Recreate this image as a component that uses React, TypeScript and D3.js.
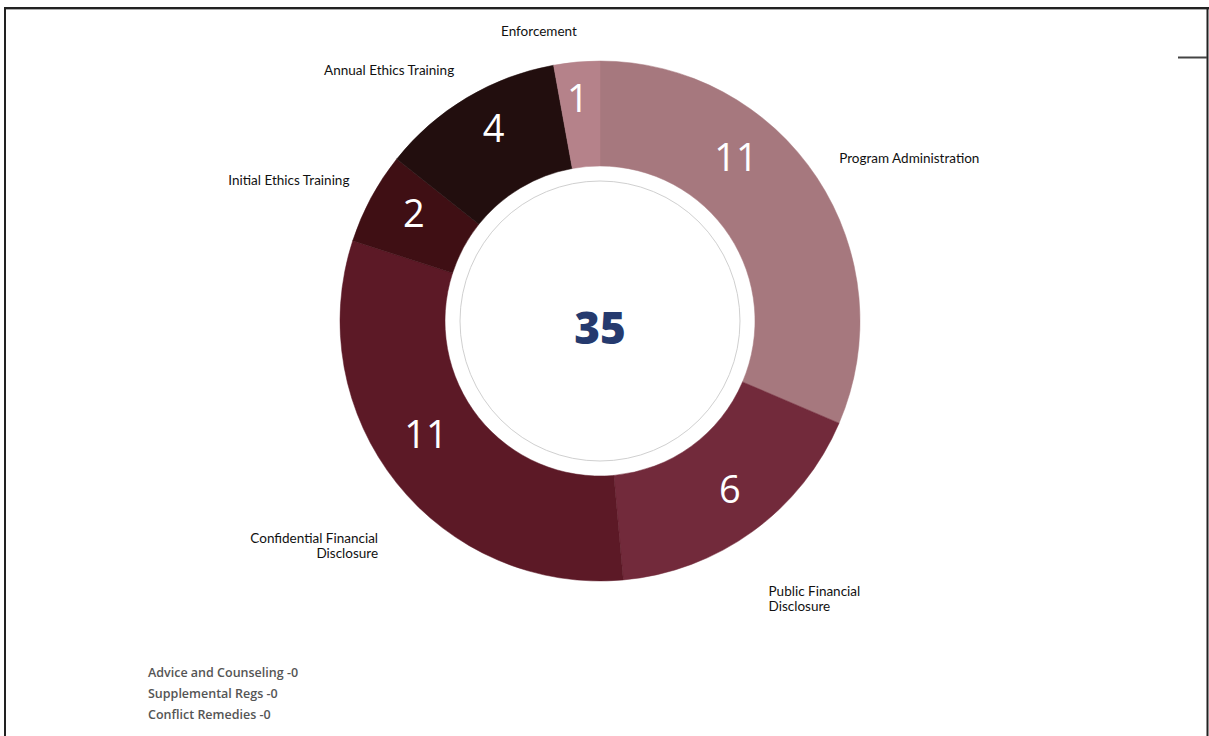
import * as d3 from "d3"
import { useEffect, useRef } from "react"

const categories = [
  "Program Administration",
  "Public Financial Disclosure",
  "Confidential Financial Disclosure",
  "Initial Ethics Training",
  "Annual Ethics Training",
  "Enforcement",
]
const values = [11, 6, 11, 2, 4, 1]
const zeroCategories = ["Advice and Counseling", "Supplemental Regs", "Conflict Remedies"]
const zeroValues = [0, 0, 0]

const colors = ["#a6787e", "#722a3b", "#5c1926", "#3f0f14", "#220e0e", "#b5828a"]
// label layout (degrees shift from slice middle, radius from centre, anchor)
const labelShift = [-0.7, 4.1, -5.9, 0.9, -9.3, -6.8]
const labelRadius = [289, 319, 311, 287, 327, 295]
const labelAnchor = ["start", "start", "end", "end", "middle", "middle"]
const valueShift = [-16.9, -1.6, 5.4, 1.7, 1.9, -0.5]
const valueRadius = [213, 213, 208, 215, 220, 224]

export default function App() {
  const svgRef = useRef<SVGSVGElement>(null)

  useEffect(() => {
    if (!svgRef.current) return
    const root = d3.select(svgRef.current)
    root.selectAll("*").remove()

    const W = 1209
    const H = 736
    const cx = 600
    const cy = 321
    const outer = 260
    const inner = 155

    // frame
    root.append("line").attr("x1", 4).attr("x2", 1209).attr("y1", 8).attr("y2", 8)
      .attr("stroke", "#222").attr("stroke-width", 2)
    root.append("line").attr("x1", 4).attr("x2", 1209).attr("y1", 9.5).attr("y2", 9.5)
      .attr("stroke", "#aaa").attr("stroke-width", 1)
    root.append("line").attr("x1", 5).attr("x2", 5).attr("y1", 7).attr("y2", H)
      .attr("stroke", "#222").attr("stroke-width", 2)
    root.append("line").attr("x1", 1207.5).attr("x2", 1207.5).attr("y1", 7).attr("y2", H)
      .attr("stroke", "#222").attr("stroke-width", 2)
    root.append("line").attr("x1", 1178).attr("x2", 1207).attr("y1", 57.5).attr("y2", 57.5)
      .attr("stroke", "#444").attr("stroke-width", 2)

    const g = root.append("g").attr("transform", `translate(${cx},${cy})`)

    const pie = d3.pie<number>().sort(null).value((d) => d)
    const arcs = pie(values)
    const arc = d3.arc<d3.PieArcDatum<number>>().innerRadius(inner).outerRadius(outer)

    g.selectAll("path.slice")
      .data(arcs)
      .join("path")
      .attr("class", "slice")
      .attr("fill", (d, i) => colors[i])
      .attr("stroke", (d, i) => colors[i])
      .attr("stroke-width", 0.5)
      .attr("d", arc)

    // inner circle
    g.append("circle").attr("r", 140).attr("fill", "#fff").attr("stroke", "#d0d0d0").attr("stroke-width", 1)

    const polar = (a: number, r: number) => [r * Math.sin(a), -r * Math.cos(a)]
    const rad = (deg: number) => (deg * Math.PI) / 180

    // value labels
    g.selectAll("text.val")
      .data(arcs)
      .join("text")
      .attr("class", "val")
      .attr("transform", (d, i) => {
        const a = (d.startAngle + d.endAngle) / 2 + rad(valueShift[i])
        return `translate(${polar(a, valueRadius[i])})`
      })
      .attr("text-anchor", "middle")
      .attr("dy", "0.36em")
      .attr("fill", "#fff")
      .style("font-family", "'Open Sans', sans-serif")
      .style("font-weight", 400)
      .style("font-size", "38px")
      .text((d) => d.data)

    // category labels
    g.selectAll("text.cat")
      .data(arcs)
      .join("text")
      .attr("class", "cat")
      .attr("transform", (d, i) => {
        const a = (d.startAngle + d.endAngle) / 2 + rad(labelShift[i])
        return `translate(${polar(a, labelRadius[i])})`
      })
      .attr("text-anchor", (d, i) => labelAnchor[i])
      .attr("fill", "#111")
      .style("font-family", "'Lato', sans-serif")
      .style("font-size", "13.5px")
      .each(function (d, i) {
        const name = categories[i]
        const t = d3.select(this)
        const lines = name.length > 24 ? [name.replace(/ Disclosure$/, ""), "Disclosure"] : [name]
        lines.forEach((ln, j) => {
          t.append("tspan").attr("x", 0).attr("dy", j === 0 ? "0.3em" : "1.12em").text(ln)
        })
      })

    // total
    g.append("text")
      .attr("text-anchor", "middle")
      .attr("dy", "0.36em")
      .attr("y", 7)
      .attr("fill", "#253a6e")
      .style("font-family", "'Open Sans', sans-serif")
      .style("font-weight", 800)
      .style("font-size", "44px")
      .text(d3.sum(values))

    // zero-value list
    root.selectAll("text.zero")
      .data(zeroCategories)
      .join("text")
      .attr("class", "zero")
      .attr("x", 148)
      .attr("y", (d, i) => 677 + i * 21)
      .attr("fill", "#555")
      .style("font-family", "'Open Sans', sans-serif")
      .style("font-weight", 600)
      .style("font-size", "12.5px")
      .text((d, i) => `${d} -${zeroValues[i]}`)

    root.attr("width", W).attr("height", H)
  }, [])

  return (
    <svg
      ref={svgRef}
      style={{ position: "fixed", left: 0, top: 0, background: "#fff" }}
      width={1209}
      height={736}
    />
  )
}
